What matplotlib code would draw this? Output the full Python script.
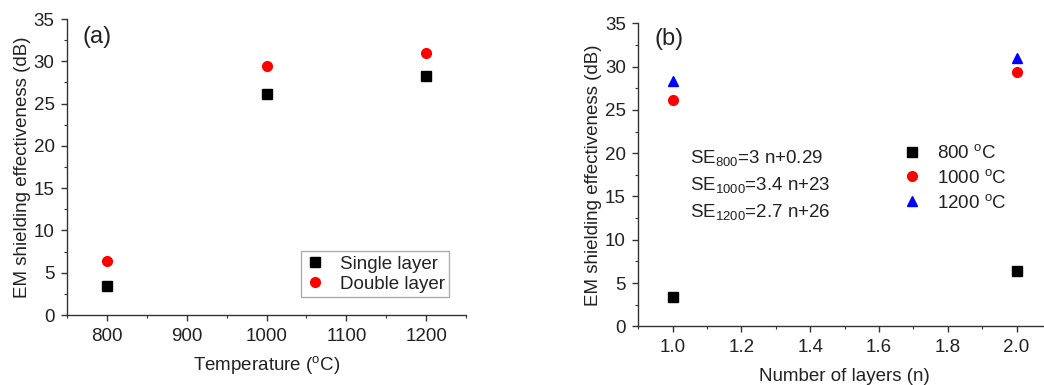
import matplotlib
matplotlib.use("Agg")
import matplotlib.pyplot as plt
from matplotlib.ticker import MultipleLocator, FormatStrFormatter

plt.rcParams['font.family'] = ['Liberation Sans', 'DejaVu Sans']
plt.rcParams['mathtext.fontset'] = 'custom'
plt.rcParams['mathtext.rm'] = 'Liberation Sans'
plt.rcParams['mathtext.it'] = 'Liberation Sans:italic'

# Panel (a): shielding effectiveness vs. annealing temperature
temperatures = [800, 1000, 1200]
se_single = [3.4, 26.1, 28.3]
se_double = [6.4, 29.4, 30.95]

# Panel (b): shielding effectiveness vs. number of layers
layers = [1.0, 2.0]
se_800 = [3.4, 6.4]
se_1000 = [26.1, 29.4]
se_1200 = [28.3, 30.95]

equations = [r"SE$_{800}$=3 n+0.29",
             r"SE$_{1000}$=3.4 n+23",
             r"SE$_{1200}$=2.7 n+26"]

text_color = '#222222'
fs = 13.5

fig = plt.figure(figsize=(10.44, 3.85), dpi=100)
ax1 = fig.add_axes([0.0642, 0.1818, 0.3822, 0.7688])
ax2 = fig.add_axes([0.6114, 0.1525, 0.3953, 0.787])


def style_axes(ax):
    for side in ('top', 'right'):
        ax.spines[side].set_visible(False)
    for side in ('left', 'bottom'):
        ax.spines[side].set_color('#333333')
        ax.spines[side].set_linewidth(1.0)
    ax.tick_params(which='major', direction='out', length=4, width=1, pad=5,
                   colors='#333333', labelsize=fs, labelcolor=text_color)
    ax.tick_params(which='minor', direction='out', length=2.5, width=0.8,
                   colors='#333333')
    ax.set_ylim(0, 35)
    ax.yaxis.set_major_locator(MultipleLocator(5))
    ax.yaxis.set_minor_locator(MultipleLocator(2.5))
    ax.set_ylabel('EM shielding effectiveness (dB)', fontsize=fs, color=text_color)


# ---- (a)
style_axes(ax1)
ax1.plot(temperatures, se_single, 's', color='black', ms=6.5, ls='none', label='Single layer')
ax1.plot(temperatures, se_double, 'o', color='red', ms=7, ls='none', label='Double layer')
ax1.set_xlim(750, 1250)
ax1.xaxis.set_major_locator(MultipleLocator(100))
ax1.xaxis.set_minor_locator(MultipleLocator(50))
ax1.set_xlabel(r'Temperature ($^{\mathrm{o}}$C)', fontsize=fs, color=text_color, labelpad=7)
ax1.yaxis.labelpad = 2
ax1.text(0.04, 0.975, '(a)', transform=ax1.transAxes, fontsize=17,
         va='top', ha='left', color=text_color)
leg1 = ax1.legend(loc='lower right', bbox_to_anchor=(0.958, 0.06), fontsize=fs,
                  frameon=True, fancybox=False, edgecolor='#999999',
                  handletextpad=0.8, borderpad=0.25, labelspacing=0.15,
                  handlelength=1.0, borderaxespad=0.0)
for t in leg1.get_texts():
    t.set_color(text_color)

# ---- (b)
style_axes(ax2)
ax2.plot(layers, se_800, 's', color='black', ms=6.5, ls='none', label=r'800 $^{\mathrm{o}}$C')
ax2.plot(layers, se_1000, 'o', color='red', ms=7, ls='none', label=r'1000 $^{\mathrm{o}}$C')
ax2.plot(layers, se_1200, '^', color='blue', ms=7.5, ls='none', label=r'1200 $^{\mathrm{o}}$C')
ax2.set_xlim(0.9, 2.1)
ax2.xaxis.set_major_locator(MultipleLocator(0.2))
ax2.xaxis.set_minor_locator(MultipleLocator(0.1))
ax2.xaxis.set_major_formatter(FormatStrFormatter('%.1f'))
ax2.set_xlabel('Number of layers (n)', fontsize=fs, color=text_color, labelpad=9)
ax2.yaxis.labelpad = 2
ax2.text(0.04, 0.985, '(b)', transform=ax2.transAxes, fontsize=17,
         va='top', ha='left', color=text_color)
for i, eq in enumerate(equations):
    ax2.text(0.125, 0.555 - i * 0.089, eq, transform=ax2.transAxes,
             fontsize=fs, va='center', ha='left', color=text_color)
leg2 = ax2.legend(loc='upper left', bbox_to_anchor=(0.6, 0.656), fontsize=fs,
                  frameon=False, handletextpad=0.8, labelspacing=0.35,
                  handlelength=1.0)
for t in leg2.get_texts():
    t.set_color(text_color)

fig.savefig('out.png', dpi=100)
